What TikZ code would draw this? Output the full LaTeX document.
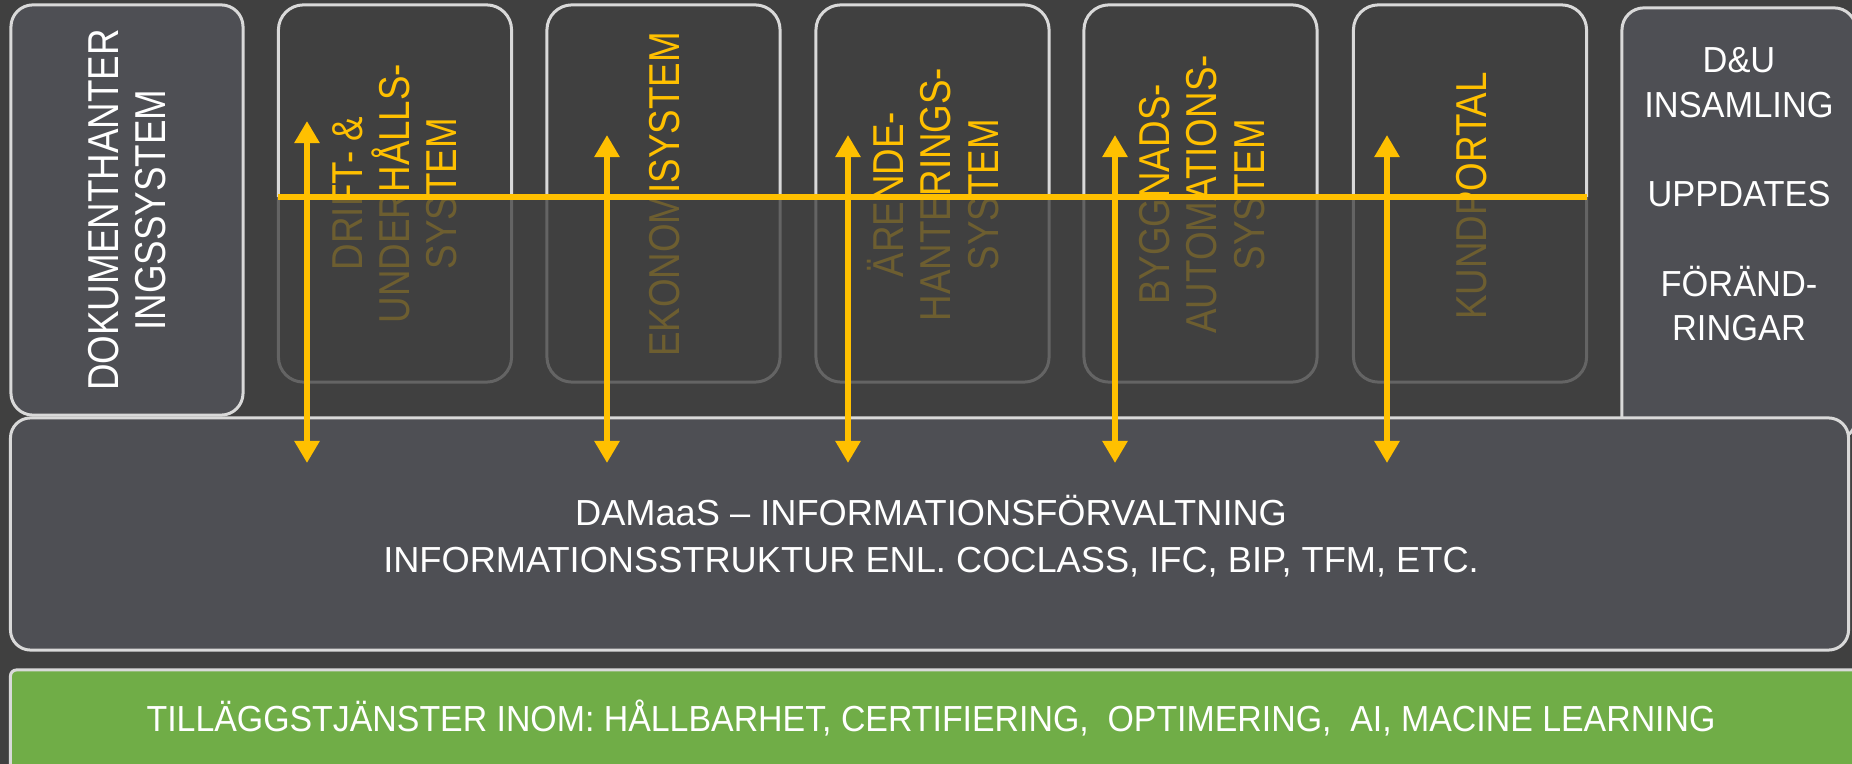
\documentclass[tikz,border=0pt]{standalone}
\usepackage{fontspec}
\newfontfamily\hfont[FakeStretch=0.95]{Liberation Sans}
\newfontfamily\hwidefont[FakeStretch=1.0]{Liberation Sans}
\newfontfamily\hnarrowfont[FakeStretch=0.935]{Liberation Sans}
\newfontfamily\vfont[FakeStretch=0.85]{Liberation Sans}
\usetikzlibrary{arrows.meta}
\definecolor{bg}{HTML}{404040}
\definecolor{panel}{HTML}{4E4F54}
\definecolor{rim}{HTML}{D9D9D9}
\definecolor{gold}{HTML}{FFC000}
\definecolor{leaf}{HTML}{70AD47}
\begin{document}
\begin{tikzpicture}[x=0.01cm, y=-0.01cm,
  panelbox/.style={draw=rim, line width=0.03cm, fill=panel, rounded corners=0.22cm, inner sep=0},
  sysbox/.style={draw=rim, line width=0.03cm, fill=bg, rounded corners=0.25cm,
    minimum width=2.33cm, minimum height=3.77cm, inner sep=0},
  vlabel/.style={rotate=90, align=center, text=gold, inner sep=0,
    font=\vfont\fontsize{12.3}{13.4}\selectfont},
  vlabelw/.style={vlabel, text=white},
  hlabel/.style={align=center, text=white, inner sep=0,
    font=\hfont\fontsize{10.3}{13.5}\selectfont},
  flow/.style={gold, line width=0.06cm, {Triangle[width=0.24cm,length=0.22cm]}-{Triangle[width=0.24cm,length=0.22cm]}},
  busline/.style={gold, line width=0.065cm}
]
% canvas
\fill[bg] (0,0) rectangle (1852,764);
\clip (0,0) rectangle (1852,764);

% side panels
\node[panelbox, minimum width=2.32cm, minimum height=4.10cm] (doc) at (127,210) {};
\node[vlabelw] (doclbl) at (doc.center) {DOKUMENTHANTER\\INGSSYSTEM};
\node[panelbox, minimum width=2.34cm, minimum height=4.32cm] (du) at (1739,224) {};

% application systems
\node[sysbox] (drift) at (395,193.5) {};
\node[sysbox] (eko)   at (663.5,193.5) {};
\node[sysbox] (arende) at (932.5,193.5) {};
\node[sysbox] (bygg)  at (1200.5,193.5) {};
\node[sysbox] (kund)  at (1470,193.5) {};
\node[vlabel] (driftlbl)  at (395,193.5)   {DRIFT- \&\\UNDERHÅLLS-\\SYSTEM};
\node[vlabel] (ekolbl)    at (665,194.5)   {EKONOMISYSTEM};
\node[vlabel] (arendelbl) at (933,194.5)   {ÄRENDE-\\HANTERINGS-\\SYSTEM};
\node[vlabel] (bygglbl)   at (1202,194.5)  {BYGGNADS-\\AUTOMATIONS-\\SYSTEM};
\node[vlabel] (kundlbl)   at (1472,196)    {KUNDPORTAL};

% lower halves of the systems are faded
\fill[bg, opacity=0.76] (274,197) rectangle (1592,396);

% data platform and services
\node[panelbox, rounded corners=0.2cm, minimum width=18.37cm, minimum height=2.32cm] (damaas) at (929.5,534) {};
\node[hlabel, anchor=north, font=\hwidefont\fontsize{10.3}{13.5}\selectfont] (damaaslbl) at (931,494)
  {DAMaaS – INFORMATIONSFÖRVALTNING\\INFORMATIONSSTRUKTUR ENL. COCLASS, IFC, BIP, TFM, ETC.};
\node[draw=rim, line width=0.03cm, fill=leaf, rounded corners=0.06cm, inner sep=0,
  minimum width=18.51cm, minimum height=1.20cm] (extra) at (936.5,730) {};
\node[hlabel, anchor=base, font=\hnarrowfont\fontsize{10.3}{13.5}\selectfont] (extralbl) at (931,731)
  {TILLÄGGSTJÄNSTER INOM: HÅLLBARHET, CERTIFIERING,\ \ OPTIMERING,\ \ AI, MACINE LEARNING};

% change collection text
\node[hlabel, anchor=north, font=\hfont\fontsize{10.3}{12.7}\selectfont] (dulbl) at (1739,47)
  {D\&U\\INSAMLING\\[12.7pt]UPPDATES\\[12.7pt]FÖRÄND-\\RINGAR};

% integration bus
\coordinate (busW) at (278,197);
\coordinate (busE) at (1587,197);
\draw[busline] (busW) -- (busE);

\coordinate (t1) at (307,121);  \coordinate (b1) at (307,463);
\coordinate (t2) at (607,135);  \coordinate (b2) at (607,463);
\coordinate (t3) at (848,135);  \coordinate (b3) at (848,463);
\coordinate (t4) at (1115,135); \coordinate (b4) at (1115,463);
\coordinate (t5) at (1387,135); \coordinate (b5) at (1387,463);
\foreach \i in {1,...,5} \draw[flow] (t\i) -- (b\i);
\end{tikzpicture}
\end{document}
